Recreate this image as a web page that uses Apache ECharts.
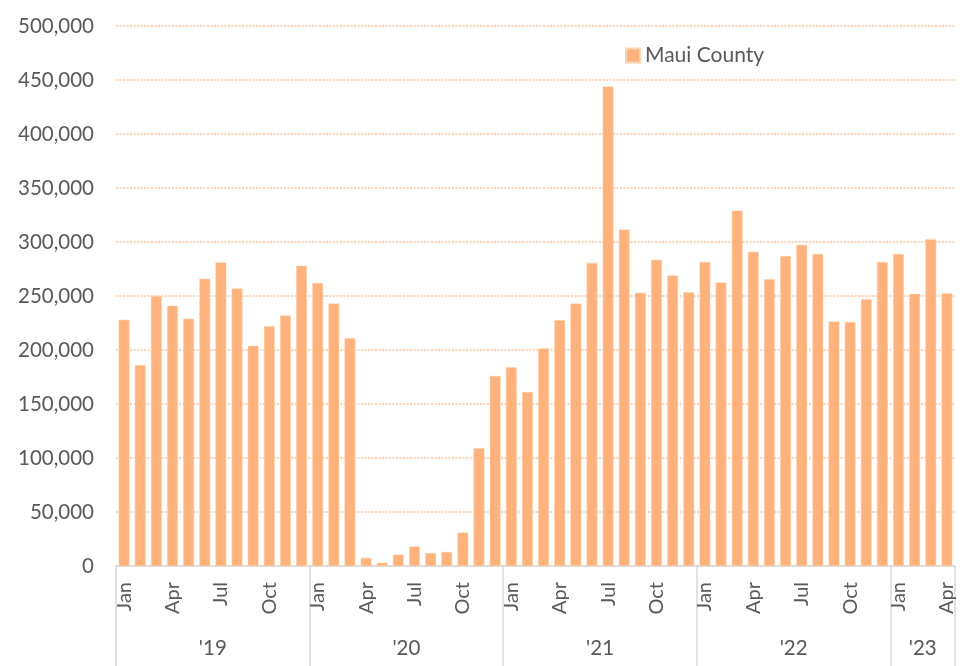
<!DOCTYPE html>
<html>
<head>
<meta charset="utf-8">
<script src="https://cdn.jsdelivr.net/npm/echarts@6/dist/echarts.min.js"></script>
<style>
  html, body { margin: 0; padding: 0; background: #fff; }
  #chart { width: 968px; height: 666px; }
</style>
</head>
<body>
<div id="chart"></div>
<script>
const monthNames = ['Jan', 'Feb', 'Mar', 'Apr', 'May', 'Jun', 'Jul', 'Aug', 'Sep', 'Oct', 'Nov', 'Dec']
const yearLabels = ["'19", "'20", "'21", "'22", "'23"]

// monthly values, Maui County
const v2019 = [228000, 186000, 250000, 241000, 229000, 266000, 281000, 257000, 204000, 222000, 232000, 278000]
const v2020 = [262000, 243000, 211000, 7500, 3000, 10500, 18000, 12000, 13000, 31000, 109000, 176000]
const v2021 = [184000, 161000, 201500, 227500, 243000, 280500, 444000, 311500, 253000, 283500, 269000, 253500]
const v2022 = [281500, 262500, 329000, 291000, 265500, 287000, 297500, 289000, 226500, 226000, 247000, 281500]
const v2023 = [289000, 252000, 302500, 252500]

const yearValues = [v2019, v2020, v2021, v2022, v2023]

const categories = []
const values = []
const yearStart = []
yearValues.forEach((arr) => {
  yearStart.push(categories.length)
  arr.forEach((v, i) => {
    categories.push(monthNames[i])
    values.push(v)
  })
})
const total = categories.length
const boundaries = yearStart.concat([total])
const yearCenters = yearStart.map((s, i) => (s + boundaries[i + 1]) / 2)

const textColor = '#595959'
const font = 'Lato, "Noto Sans", sans-serif'

let mychart = echarts.init(document.getElementById('chart'))
mychart.setOption({
  color: ['#FFB27B'],
  animation: false,
  legend: {
    data: ['Maui County'],
    left: 620,
    top: 40,
    icon: 'rect',
    itemWidth: 14,
    itemHeight: 14,
    itemGap: 6,
    textStyle: { color: textColor, fontSize: 21, fontFamily: font },
  },
  grid: {
    left: 116,
    right: 13,
    top: 26,
    bottom: 100,
  },
  xAxis: [
    {
      type: 'category',
      data: categories,
      axisLine: { show: true, lineStyle: { color: '#d9d9d9', width: 1.5 } },
      axisTick: { show: false },
      axisLabel: {
        interval: 2,
        rotate: 90,
        margin: 16,
        color: textColor,
        fontSize: 20,
        fontFamily: font,
      },
    },
    {
      type: 'value',
      position: 'bottom',
      min: 0,
      max: total,
      axisLine: { show: false },
      splitLine: { show: false },
      axisTick: {
        show: true,
        length: 100,
        customValues: boundaries,
        lineStyle: { color: '#d9d9d9', width: 1.5 },
      },
      axisLabel: {
        customValues: yearCenters,
        margin: 72,
        color: textColor,
        fontSize: 20.5,
        fontFamily: font,
        formatter: (v) => yearLabels[yearCenters.indexOf(v)],
      },
    },
  ],
  yAxis: {
    type: 'value',
    min: 0,
    max: 500000,
    interval: 50000,
    axisLine: { show: false },
    axisTick: { show: false },
    axisLabel: {
      margin: 22,
      color: textColor,
      fontSize: 20.5,
      fontFamily: font,
      formatter: (v) => v.toLocaleString('en-US'),
    },
    splitLine: {
      lineStyle: { color: '#FCC59B', type: [2, 1.5], width: 1.5 },
    },
  },
  series: [
    {
      name: 'Maui County',
      type: 'bar',
      xAxisIndex: 0,
      barCategoryGap: '33%',
      data: values,
      itemStyle: { color: '#FFB27B', borderColor: '#FFD3B3', borderWidth: 0.5 },
    },
  ],
})
</script>
</body>
</html>
